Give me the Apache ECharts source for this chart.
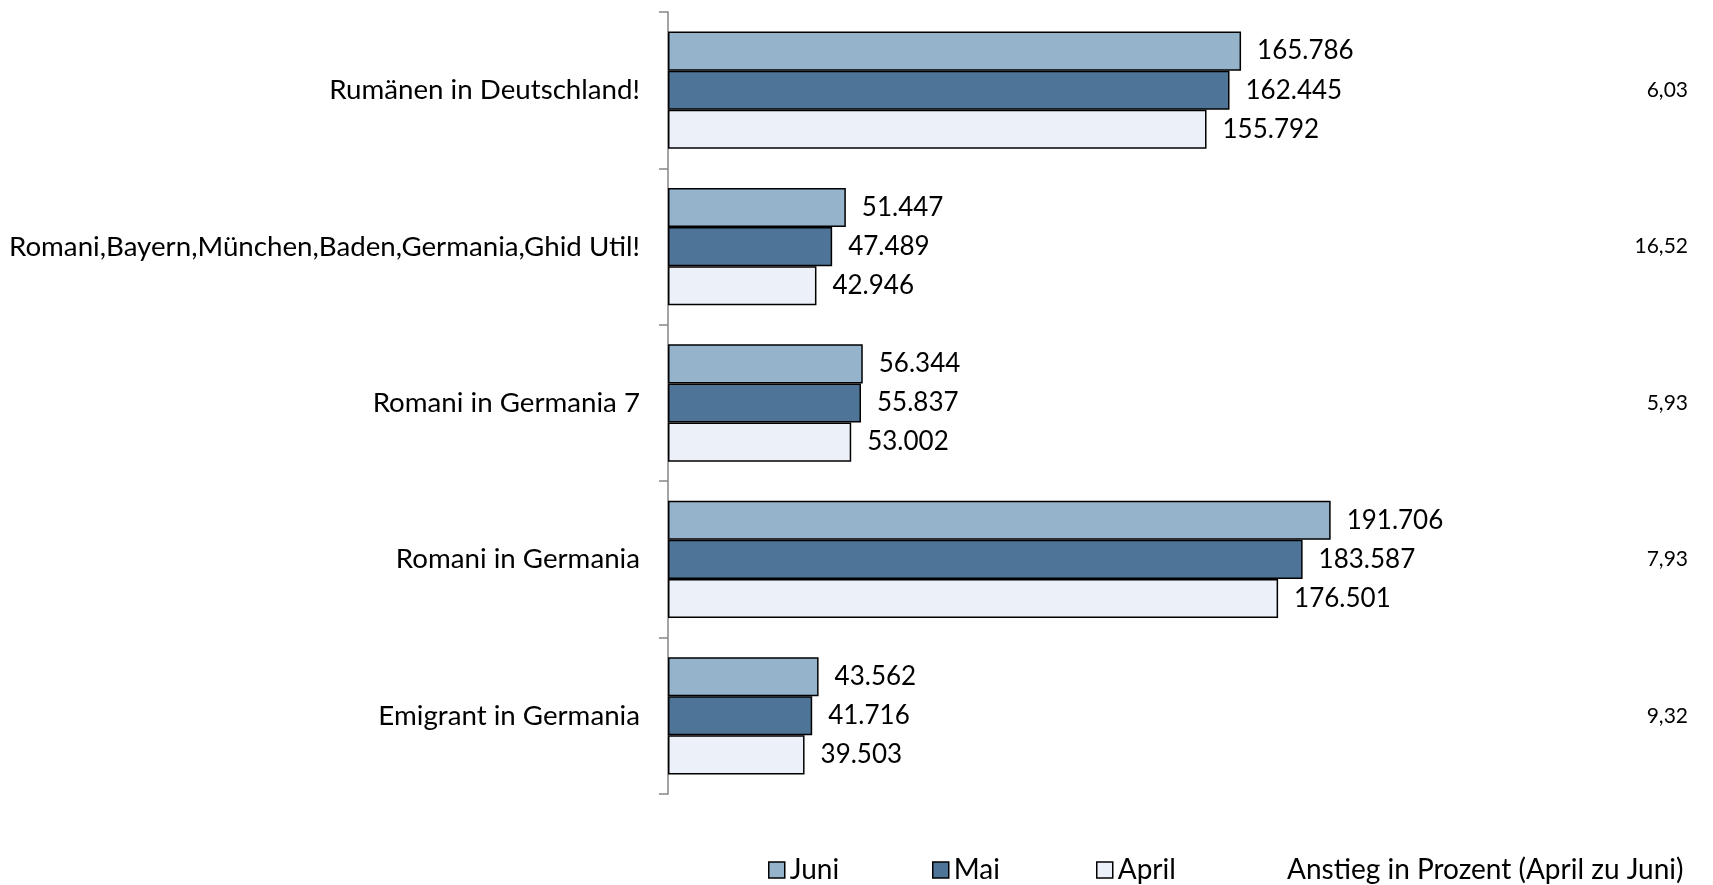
<!DOCTYPE html>
<html>
<head>
<meta charset="utf-8">
<script src="https://cdn.jsdelivr.net/npm/echarts@6/dist/echarts.min.js"></script>
<style>
  html, body { margin: 0; padding: 0; background: #fff; }
</style>
</head>
<body>
<div id="main" style="width:1713px;height:885px"></div>
<script>
// Kategorien (von oben nach unten)
var categories = [
  'Rumänen in Deutschland!',
  'Romani,Bayern,München,Baden,Germania,Ghid Util!',
  'Romani in Germania 7',
  'Romani in Germania',
  'Emigrant in Germania'
]
var juni = [165786, 51447, 56344, 191706, 43562]
var mai = [162445, 47489, 55837, 183587, 41716]
var april = [155792, 42946, 53002, 176501, 39503]
// Anstieg in Prozent (April zu Juni)
var anstieg = ['6,03', '16,52', '5,93', '7,93', '9,32']
var legendNames = ['Juni', 'Mai', 'April', 'Anstieg in Prozent (April zu Juni)']

var FONT = 'Lato'

var myChart = echarts.init(document.getElementById('main'))

function fmt (v) {
  return v.toString().replace(/\B(?=(\d{3})+(?!\d))/g, '.')
}

function barSeries (name, data, color) {
  return {
    type: 'bar',
    name: name,
    data: data,
    barGap: '0%',
    barCategoryGap: '25%',
    itemStyle: {
      color: color,
      borderColor: '#000',
      borderWidth: 1.5
    },
    label: {
      show: true,
      position: 'right',
      distance: 16,
      color: '#000',
      fontFamily: FONT,
      fontSize: 26,
      formatter: function (p) { return fmt(p.value) }
    }
  }
}

// ein Legendenblock pro Eintrag, feste Abstände wie im Original
var legendLeft = [768, 932, 1096, 1266]
var legends = legendNames.map(function (name, i) {
  return {
    top: 856,
    left: legendLeft[i],
    padding: 0,
    itemWidth: 16,
    itemHeight: 16,
    itemStyle: { borderColor: '#000', borderWidth: 1.5 },
    textStyle: { color: '#000', fontFamily: FONT, fontSize: 28 },
    data: [{ name: name, icon: i === 3 ? 'none' : 'rect' }]
  }
})

var option = {
  backgroundColor: '#fff',
  animation: false,
  grid: {
    left: 668,
    right: 8,
    top: 12,
    bottom: 91
  },
  legend: legends,
  xAxis: {
    type: 'value',
    min: 0,
    max: 300000,
    show: false
  },
  yAxis: [
    {
      type: 'category',
      data: categories,
      inverse: true,
      axisLine: { lineStyle: { color: '#868686', width: 1.5 } },
      axisTick: { show: true, length: 9, lineStyle: { color: '#868686', width: 1.5 } },
      axisLabel: {
        color: '#000',
        fontFamily: FONT,
        fontSize: 27.7,
        margin: 28
      }
    },
    {
      type: 'category',
      data: anstieg,
      inverse: true,
      position: 'right',
      axisLine: { show: false },
      axisTick: { show: false },
      axisLabel: {
        inside: true,
        margin: 17,
        color: '#000',
        fontFamily: FONT,
        fontSize: 21
      }
    }
  ],
  series: [
    barSeries('Juni', juni, '#95B3CB'),
    barSeries('Mai', mai, '#4E7598'),
    barSeries('April', april, '#ECF1F9'),
    {
      type: 'line',
      name: legendNames[3],
      data: [],
      showSymbol: false,
      lineStyle: { opacity: 0 }
    }
  ]
}

myChart.setOption(option)
</script>
</body>
</html>
